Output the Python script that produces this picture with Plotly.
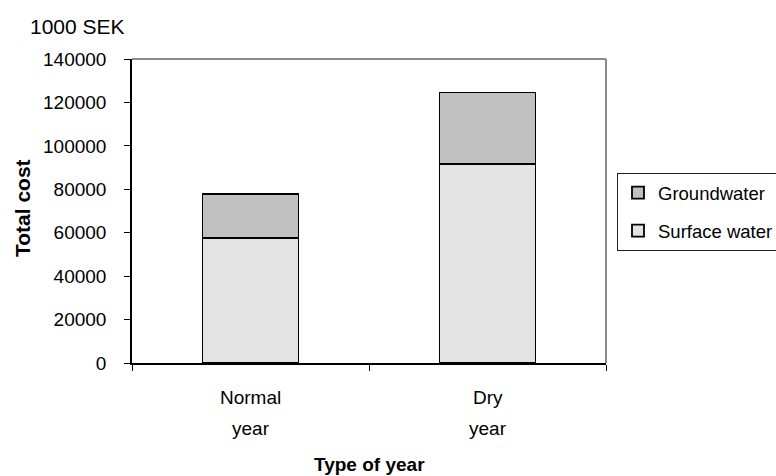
import plotly.graph_objects as go

categories = ["Normal year", "Dry year"]
surface_water = [57600, 91600]
groundwater = [20400, 33000]
y_ticks = [0, 20000, 40000, 60000, 80000, 100000, 120000, 140000]

FONT = "Liberation Sans, Arial, sans-serif"

fig = go.Figure()
fig.add_trace(go.Bar(
    x=categories, y=surface_water, name="Surface water",
    marker=dict(color="#E3E3E3", line=dict(color="black", width=1.8)),
    legendgroup="s", legendrank=2,
))
fig.add_trace(go.Bar(
    x=categories, y=groundwater, name="Groundwater",
    marker=dict(color="#C0C0C0", line=dict(color="black", width=1.8)),
    legendgroup="g", legendrank=1,
))

annotations = []
for cat in categories:
    words = cat.split(" ")
    for i, w in enumerate(words):
        annotations.append(dict(
            x=cat, xref="x", y=0, yref="paper", text=w, showarrow=False,
            yanchor="middle", xanchor="center", yshift=-34 - 31 * i,
            font=dict(size=19, color="black", family=FONT),
        ))
annotations += [
    dict(x=0.5, xref="paper", y=0, yref="paper", text="<b>Type of year</b>",
         showarrow=False, yanchor="middle", yshift=-101,
         font=dict(size=19, color="black", family=FONT)),
    dict(x=0, xref="paper", y=0.5, yref="paper", text="<b>Total cost</b>",
         showarrow=False, textangle=-90, xanchor="center", xshift=-110,
         yshift=3, font=dict(size=21, color="black", family=FONT)),
    dict(x=0, xref="paper", y=1, yref="paper", text="1000 SEK",
         showarrow=False, xanchor="center", yanchor="middle", xshift=-55,
         yshift=33, font=dict(size=21, color="black", family=FONT)),
]

fig.update_layout(
    barmode="stack",
    bargap=0.595,
    width=776, height=476,
    margin=dict(l=132, r=170, t=59, b=113),
    paper_bgcolor="white", plot_bgcolor="white",
    font=dict(family=FONT, size=19, color="black"),
    showlegend=True,
    legend=dict(
        xref="container", yref="container",
        x=617 / 776, y=1 - 173 / 476, xanchor="left", yanchor="top",
        bordercolor="#222222", borderwidth=1, bgcolor="white",
        tracegroupgap=11, traceorder="grouped",
        font=dict(size=18.5, family=FONT, color="black"),
    ),
    annotations=annotations,
    shapes=[
        dict(type="line", xref="paper", yref="paper", x0=0, x1=1, y0=1, y1=1,
             line=dict(color="#8C8C8C", width=2)),
        dict(type="line", xref="paper", yref="paper", x0=1, x1=1, y0=0, y1=1,
             line=dict(color="#8C8C8C", width=2)),
    ],
)
fig.update_xaxes(
    type="category", showticklabels=False, tickson="boundaries",
    ticks="outside", ticklen=6, tickcolor="black", tickwidth=1,
    showline=True, linecolor="black", linewidth=1.5, showgrid=False,
)
fig.update_yaxes(
    range=[0, 140000], tickvals=y_ticks, ticktext=[str(v) for v in y_ticks],
    ticks="outside", ticklen=6, tickcolor="black", tickwidth=1,
    ticklabelstandoff=14,
    showline=True, linecolor="black", linewidth=1.5, showgrid=False,
    zeroline=False, tickfont=dict(size=19, family=FONT, color="black"),
)

fig.write_html("out.html")
